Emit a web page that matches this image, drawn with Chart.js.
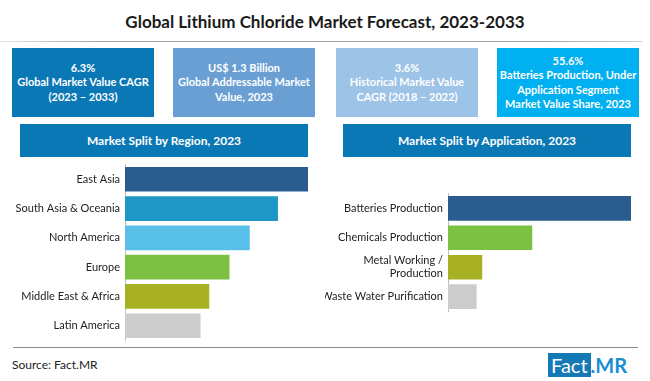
<!DOCTYPE html>
<html lang="en">
  <head>
    <meta charset="UTF-8" />
    <title>Global Lithium Chloride Market Forecast</title>
    <script src="https://cdn.jsdelivr.net/npm/chart.js"></script>
    <style>
      body { margin: 0; background: #fff; }
      #page { position: relative; width: 650px; height: 381px; overflow: hidden; font-family: Lato, "Open Sans", sans-serif; }
      .title { position: absolute; left: 0; width: 650px; top: 11px; text-align: center; font-size: 17px; font-weight: bold; color: #1a1a1a; }
      .rule { position: absolute; left: 0; width: 642px; top: 41px; height: 1px; background: linear-gradient(to right, #e6e6e6, #a6a6a6 15%, #a6a6a6 85%, #d0d0d0); }
      .kpi { position: absolute; top: 48px; height: 69px; width: 142px; color: #fff; font-weight: bold; font-size: 11px; line-height: 14.5px; text-align: center; white-space: nowrap; display: flex; align-items: center; justify-content: center; }
      .head { position: absolute; top: 124px; height: 33px; width: 288px; background: #0b78b6; color: #fff; font-weight: bold; font-size: 12px; display: flex; align-items: center; justify-content: center; }
      .foot { position: absolute; left: 13px; width: 625px; top: 347px; height: 1px; background: #8a8a8a; }
      .source { position: absolute; left: 12px; top: 357px; font-size: 12px; color: #222; }
      .logo { position: absolute; left: 548px; top: 356px; font-size: 20px; line-height: 19px; }
      .logo .f { background: #1479b5; color: #fff; padding: 0 3px; }
      .logo .m { color: #1a8fd2; font-weight: bold; }
      canvas { position: absolute; }
    </style>
  </head>
  <body>
    <div id="page">
      <div class="title">Global Lithium Chloride Market Forecast, 2023-2033</div>
      <div class="rule"></div>

      <!-- KPI boxes -->
      <div class="kpi" style="left:12px;background:#0b78b6">6.3%<br />Global Market Value CAGR<br />(2023 – 2033)</div>
      <div class="kpi" style="left:173px;background:#6a9fd4">US$ 1.3 Billion<br />Global Addressable Market<br />Value, 2023</div>
      <div class="kpi" style="left:336px;background:#9dc3e6">3.6%<br />Historical Market Value<br />CAGR (2018 – 2022)</div>
      <div class="kpi" style="left:497px;background:#00b0f0">55.6%<br />Batteries Production, Under<br />Application Segment<br />Market Value Share, 2023</div>

      <div class="head" style="left:20px">Market Split by Region, 2023</div>
      <div class="head" style="left:343px">Market Split by Application, 2023</div>

      <!-- canvases are 12px taller at each end: chart.js keeps that room for the tick labels -->
      <canvas id="regionChart" width="308" height="199" style="left:0;top:153px"></canvas>
      <canvas id="appChart" width="306" height="141" style="left:325px;top:182px"></canvas>

      <div class="foot"></div>
      <div class="source">Source: Fact.MR</div>
      <div class="logo"><span class="f">Fact</span><span class="m">.MR</span></div>
    </div>

    <script>
      // values (share %, 2023)
      const regionLabels = ["East Asia", "South Asia & Oceania", "North America", "Europe", "Middle East & Africa", "Latin America"];
      const regionShares = [25.3, 21.1, 17.2, 14.4, 11.6, 10.4];

      const appLabels = ["Batteries Production", "Chemicals Production", ["Metal Working /", "Production"], "Waste Water Purification"];
      const appShares = [55.6, 25.5, 10.3, 8.6];

      const regionColors = ["#2b5c8f", "#1f97c6", "#58bfe9", "#7cc142", "#a8b023", "#cccccc"];
      const appColors = ["#2b5c8f", "#7cc142", "#a8b023", "#cccccc"];

      function makeChart(id, labels, values, colors, axisWidth) {
        new Chart(document.getElementById(id), {
          type: "bar",
          data: {
            labels: labels,
            datasets: [{ data: values, backgroundColor: colors, barThickness: 24 }],
          },
          options: {
            indexAxis: "y",
            responsive: false,
            animation: false,
            layout: { padding: 0 },
            plugins: { legend: { display: false }, tooltip: { enabled: false } },
            scales: {
              x: { display: false, min: 0, max: Math.max(...values) },
              y: {
                grid: { display: false, drawTicks: false },
                border: { display: true, color: "#bfbfbf" },
                ticks: { autoSkip: false, padding: 5, color: "#222", font: { family: "Lato", size: 11 } },
                afterFit: (scale) => { scale.width = axisWidth; },
              },
            },
          },
        });
      }

      makeChart("regionChart", regionLabels, regionShares, regionColors, 125);
      makeChart("appChart", appLabels, appShares, appColors, 123);
    </script>
  </body>
</html>
